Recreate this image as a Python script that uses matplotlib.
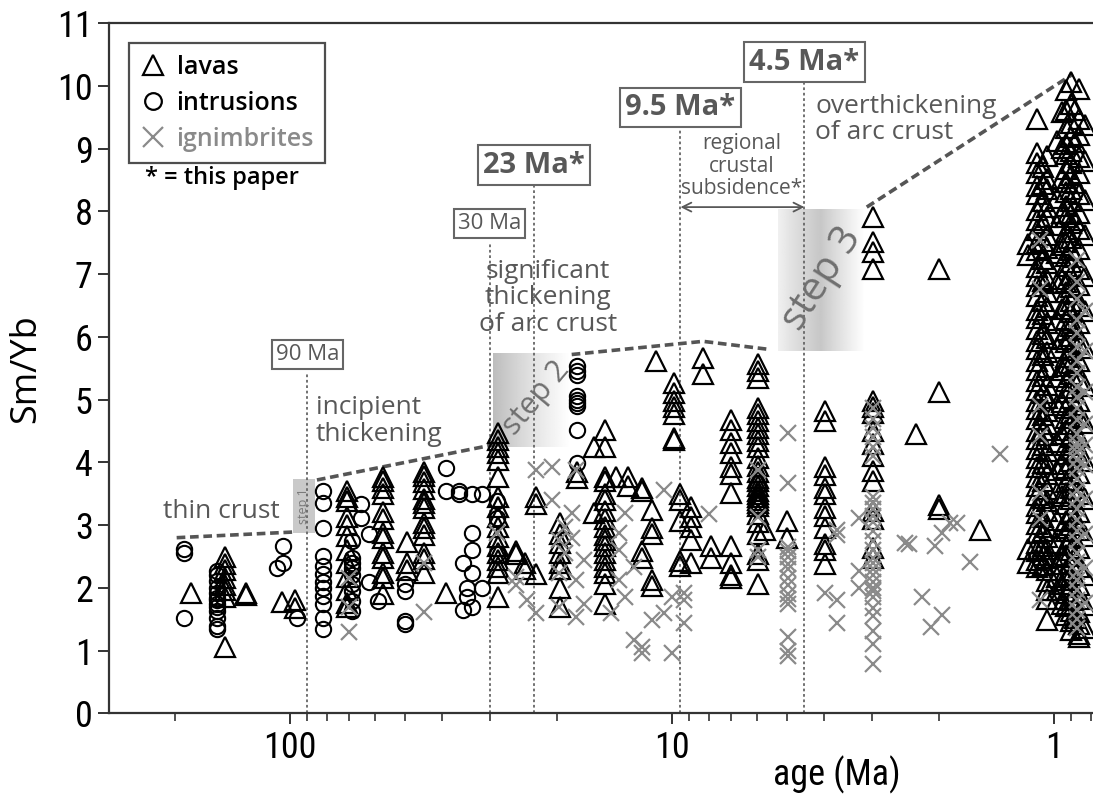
import numpy as np
import matplotlib
matplotlib.use("Agg")
import matplotlib.pyplot as plt
from matplotlib.lines import Line2D
from matplotlib.patches import Rectangle
from matplotlib.ticker import NullFormatter, LogLocator

# ---- data: (age in Ma, [Sm/Yb values]) ----
lavas = [
    (182, [1.92]),
    (148, [2.50, 2.38, 2.28, 2.15, 2.05, 1.96, 1.86, 1.05]),
    (130, [1.92, 1.89]),
    (105, [1.77]),
    (97, [1.80, 1.68]),
    (71, [3.55, 3.45, 3.38, 3.13, 3.00, 2.82, 2.60, 2.40, 2.18, 1.96, 1.76, 1.70]),
    (57, [3.77, 3.70, 3.60, 3.50, 3.21, 3.10, 2.88, 2.80, 2.55, 2.47, 2.24, 2.15, 1.91]),
    (49.5, [2.73, 2.40, 2.28]),
    (44.5, [3.85, 3.78, 3.68, 3.58, 3.41, 3.35, 3.28, 3.03, 2.95, 2.85, 2.56, 2.46, 2.24]),
    (39, [1.92]),
    (28.6, [4.47, 4.36, 4.25, 4.15, 4.04, 3.77, 3.45, 3.29, 3.13, 2.97, 2.81, 2.66,
            2.55, 2.44, 2.34, 2.24, 1.86]),
    (25.6, [2.59, 2.54]),
    (24.3, [2.40, 2.30]),
    (22.7, [3.45, 3.34, 2.22]),
    (19.6, [3.03, 2.86, 2.71, 2.55, 2.39, 2.30, 2.00, 1.69]),
    (17.7, [3.84, 3.75]),
    (16.0, [4.25, 3.20]),
    (15.0, [4.52, 4.25, 3.77, 3.70, 3.50, 3.40, 3.23, 3.10, 2.97, 2.85, 2.76, 2.66,
            2.55, 2.44, 2.34, 2.24, 2.06, 1.74]),
    (14.0, [3.77]),
    (13.0, [3.77, 3.62]),
    (12.0, [3.60, 3.55, 2.59, 2.48]),
    (11.3, [3.24, 2.95, 2.86, 2.12, 2.03]),
    (11.0, [5.62]),
    (9.9, [5.26, 5.10, 4.98, 4.88, 4.77, 4.39, 4.35]),
    (9.5, [3.50, 3.40, 3.07, 2.43, 2.35]),
    (8.9, [3.29, 3.13, 2.97, 2.76, 2.39]),
    (8.3, [5.67, 5.41]),
    (7.9, [2.67, 2.48]),
    (7.0, [4.68, 4.52, 4.31, 4.15, 3.93, 3.82, 3.51, 2.67, 2.39, 2.20, 2.15]),
    (5.95, [5.57, 5.45, 5.35, 4.87, 4.77, 4.66, 4.55, 4.45, 4.34, 4.24, 4.07, 3.95,
            3.85, 3.75, 3.70, 3.62, 3.55, 3.50, 3.45, 3.40, 3.35, 3.30, 3.18, 3.05,
            2.86, 2.54, 2.44, 2.06]),
    (5.7, [2.92]),
    (5.0, [3.07, 2.80]),
    (3.98, [4.82, 4.66, 3.93, 3.80, 3.60, 3.50, 3.27, 3.15, 2.96, 2.70, 2.60, 2.38]),
    (2.98, [7.91, 7.51, 7.35, 7.08, 4.98, 4.88, 4.78, 4.50, 4.29, 4.10, 3.86, 3.70,
            3.23, 3.10, 2.64, 2.48]),
    (2.29, [4.46]),
    (2.0, [7.08, 5.13, 3.32, 3.26]),
    (1.56, [2.92]),
    (1.17, [7.48, 7.30, 2.62, 2.40]),
    (1.11, [9.47, 8.93, 8.78, 8.62, 8.41, 8.28, 8.02, 7.86, 7.71, 7.49, 7.38, 7.12,
            6.97, 6.81, 6.66, 6.43, 6.30, 6.12, 5.93, 5.81, 5.62, 5.47, 5.30, 5.16,
            4.98, 4.85, 4.69, 4.50, 4.38, 4.21, 4.07, 3.92, 3.76, 3.63, 3.48, 3.31,
            3.19, 3.02, 2.88, 2.71, 2.58, 2.44, 2.33]),
    (1.07, [8.71, 8.44, 8.16, 7.81, 7.53, 7.24, 6.89, 6.58, 6.36, 6.04, 5.71, 5.38,
            5.11, 4.76, 4.52, 4.27, 3.99, 3.71, 3.44, 3.13, 2.91, 2.66, 2.52, 2.37]),
    (1.04, [8.88, 8.52, 8.36, 8.07, 7.91, 7.63, 7.42, 7.18, 6.92, 6.71, 6.48, 6.23,
            5.98, 5.76, 5.52, 5.24, 5.03, 4.82, 4.61, 4.43, 4.18, 3.97, 3.82, 3.57,
            3.38, 3.22, 2.97, 2.81, 2.62, 2.47, 2.28, 2.11, 1.97, 1.82, 1.49]),
    (0.98, [9.12, 8.22, 7.78, 7.34, 6.86, 6.27, 5.83, 5.36, 4.91, 4.33, 3.88, 3.51,
            3.08, 2.72, 2.38, 2.17, 1.96, 1.83]),
    (0.95, [9.58, 9.02, 8.53, 7.97, 7.46, 6.93, 6.44, 5.96, 5.48, 4.97, 4.46, 3.97,
            3.46, 2.96, 2.49, 2.06, 1.74]),
    (0.93, [9.93, 9.61, 9.33, 9.08, 8.91, 8.68, 8.47, 8.31, 8.09, 7.92, 7.68, 7.51,
            7.29, 7.13, 6.88, 6.72, 6.51, 6.28, 6.11, 5.92, 5.68, 5.53, 5.29, 5.12,
            4.87, 4.71, 4.52, 4.28, 4.13, 3.91, 3.68, 3.52, 3.33, 3.07, 2.91, 2.68,
            2.52, 2.29, 2.13, 1.92, 1.71, 1.56]),
    (0.90, [10.06, 9.72, 9.41, 9.18, 8.97, 8.77, 8.58, 8.36, 8.17, 7.96, 7.81, 7.57,
            7.38, 7.19, 6.98, 6.79, 6.57, 6.39, 6.18, 6.01, 5.79, 5.58, 5.41, 5.18,
            5.02, 4.79, 4.62, 4.41, 4.19, 4.03, 3.81, 3.59, 3.42, 3.18, 3.01, 2.79,
            2.61, 2.39, 2.21, 2.02, 1.81, 1.63, 1.47, 1.33]),
    (0.88, [9.62, 9.11, 8.46, 7.86, 7.27, 6.68, 6.12, 5.53, 4.92, 4.34, 3.72, 3.12,
            2.51, 1.92, 1.52]),
    (0.86, [9.95, 9.48, 9.22, 8.87, 8.61, 8.28, 7.98, 7.72, 7.41, 7.09, 6.83, 6.49,
            6.22, 5.89, 5.62, 5.31, 4.98, 4.72, 4.41, 4.11, 3.83, 3.49, 3.21, 2.92,
            2.63, 2.33, 2.04, 1.82, 1.61, 1.42, 1.27, 1.21]),
    (0.83, [9.38, 8.81, 8.19, 7.62, 6.97, 6.41, 5.83, 5.22, 4.63, 4.02, 3.41, 2.83,
            2.21, 1.72, 1.36]),
]

intrusions = [
    (190, [2.62, 2.55, 1.52]),
    (155, [2.27, 2.20, 2.11, 2.00, 1.92, 1.84, 1.80, 1.74, 1.70, 1.63, 1.52, 1.39, 1.34]),
    (108, [2.32]),
    (104, [2.67, 2.40]),
    (96, [1.52]),
    (82, [3.55, 3.36, 2.96, 2.51, 2.35, 2.22, 2.10, 2.00, 1.87, 1.74, 1.52, 1.34]),
    (69, [2.75, 2.48, 2.40, 2.32, 2.20, 2.06, 1.95, 1.79, 1.63]),
    (65, [3.34, 3.12]),
    (62, [2.86, 2.10]),
    (59, [1.79]),
    (50, [2.06, 1.95, 1.47, 1.42]),
    (39, [3.91, 3.55]),
    (36, [3.55, 3.50]),
    (33.3, [3.50, 2.87, 2.60, 2.24, 1.70]),
    (35.2, [2.40, 1.65]),
    (34.3, [2.00, 1.86]),
    (31.4, [3.50, 2.00]),
    (28.7, [3.39, 3.11, 2.54]),
    (17.7, [5.53, 5.45, 5.40, 5.06, 5.00, 4.95, 4.90, 4.52, 3.99]),
]

ignimbrites = [
    (70, [2.16, 1.69, 1.30]),
    (44.5, [2.40, 1.61]),
    (28.7, [2.87]),
    (25.6, [2.17, 2.05]),
    (24.0, [1.80]),
    (22.7, [3.88, 1.60]),
    (20.6, [3.93, 3.40]),
    (19.8, [2.76, 2.24, 1.69]),
    (19.0, [2.97, 2.55]),
    (18.3, [3.19, 2.80]),
    (17.8, [3.88, 2.12, 1.53]),
    (17.0, [2.44, 1.75]),
    (14.4, [1.60]),
    (13.8, [2.87, 2.60, 2.12]),
    (13.3, [3.19, 1.86]),
    (12.6, [2.33, 1.17]),
    (12.0, [0.96, 1.05]),
    (11.3, [1.49]),
    (10.5, [3.56, 1.60]),
    (10.0, [1.86, 0.96]),
    (9.3, [1.81, 1.44, 1.92]),
    (8.0, [3.17]),
    (5.95, [3.88, 3.13, 2.60, 2.50]),
    (4.97, [4.47, 3.67, 2.65, 2.59, 2.50, 2.38, 2.30, 2.16, 2.05, 1.90, 1.82, 1.74,
            1.22, 1.00, 0.92]),
    (3.98, [1.92]),
    (3.7, [2.93, 2.85, 1.80, 1.44]),
    (3.24, [3.12, 2.27, 2.00]),
    (2.98, [4.87, 4.70, 4.55, 4.40, 4.25, 4.10, 3.45, 3.35, 3.25, 3.15, 3.05, 2.90,
            2.75, 2.60, 2.48, 2.40, 2.30, 2.20, 2.10, 2.00, 1.95, 1.85, 1.68, 1.55,
            1.31, 1.10, 0.78]),
    (2.46, [2.72]),
    (2.40, [2.70]),
    (2.21, [1.86]),
    (2.10, [1.38]),
    (2.05, [2.66]),
    (1.96, [2.88, 1.57]),
    (1.87, [3.03]),
    (1.79, [3.03]),
    (1.66, [2.41]),
    (1.38, [4.13]),
    (1.09, [7.55, 6.76, 4.90, 4.42, 3.52, 3.09, 1.80]),
    (0.87, [7.22, 6.88, 6.61, 6.27, 6.06, 5.84, 5.61, 5.43, 5.21, 5.05, 4.86, 4.68,
            4.46, 4.31, 4.24, 4.16, 4.04, 3.91, 3.74, 3.56, 3.41, 3.26, 3.08, 2.91,
            2.74, 2.56, 2.41, 2.26, 2.12, 1.96, 1.81, 1.65, 1.51, 1.36]),
    (0.83, [6.41, 5.77, 5.12, 4.61, 4.28, 3.96, 3.42, 2.86, 2.31, 1.76]),
]

# age markers (Ma), label, Sm/Yb of box centre, bold
age_marks = [(90, "90 Ma", 5.72, False), (30, "30 Ma", 7.81, False),
             (23, "23 Ma*", 8.74, True), (9.5, "9.5 Ma*", 9.66, True),
             (4.5, "4.5 Ma*", 10.38, True)]
mark_line_top = [5.43, 7.52, 8.40, 9.33, 10.06]

# trend line (dashed) nodes
trend_1 = ([198, 98.2], [2.80, 2.89])
trend_2 = ([85, 29.4], [3.72, 4.28])
trend_3 = ([18.3, 8.29, 5.54], [5.72, 5.93, 5.80])
trend_4 = ([3.09, 0.892], [8.07, 10.19])


def flat(groups):
    ages = [a for a, v in groups for _ in v]
    vals = [x for _, v in groups for x in v]
    return np.array(ages), np.array(vals)


TXT = "Open Sans"
NARROW = ["Roboto Condensed", "Liberation Sans Narrow", "Roboto", "DejaVu Sans"]
GREY = "#585858"
IGN = "#8a8a8a"

fig = plt.figure(figsize=(10.93, 7.98), dpi=100)
ax = fig.add_axes([0.1001, 0.1061, 0.8999, 0.8647])
ax.set_xscale("log")

# gradient boxes (steps)
g2 = np.linspace(0.74, 1.0, 200)[None, :]
ax.imshow(g2, cmap="gray", vmin=0, vmax=1, extent=(29.4, 18.5, 4.24, 5.75),
          aspect="auto", interpolation="bilinear", zorder=0.5)
g3 = np.concatenate([np.linspace(0.94, 0.78, 110), np.linspace(0.78, 1.0, 90)])[None, :]
ax.imshow(g3, cmap="gray", vmin=0, vmax=1, extent=(5.28, 3.13, 5.77, 8.04),
          aspect="auto", interpolation="bilinear", zorder=0.5)
ax.add_patch(Rectangle((98.2, 2.88), 86 - 98.2, 3.74 - 2.88, fc="#c9c9c9",
                       ec="none", zorder=0.5))

# vertical dotted age lines and boxes
for (age, lab, yb, bold), top in zip(age_marks, mark_line_top):
    ax.plot([age, age], [0, top], ls=(0, (1.5, 1.5)), color="#666666", lw=1.3, zorder=0.8)
    ax.text(age, yb, lab, ha="center", va="center", color=GREY, family=TXT,
            fontsize=21 if bold else 16, fontweight="bold" if bold else "normal",
            bbox=dict(boxstyle="square,pad=0.18", fc="white", ec="#666666", lw=1.5),
            zorder=3)

# dashed trend lines
for xs, ys in (trend_1, trend_2, trend_3, trend_4):
    ax.plot(xs, ys, ls=(0, (2.4, 1.3)), color="#555555", lw=2.6, zorder=1)

# data
la, lv = flat(lavas)
ia, iv = flat(intrusions)
ga, gv = flat(ignimbrites)
ax.plot(la, lv, ls="none", marker="^", ms=14, mfc="none", mec="black", mew=1.6, zorder=2)
ax.plot(ia, iv, ls="none", marker="o", ms=11, mfc="none", mec="black", mew=1.5, zorder=2)
ax.plot(ga, gv, ls="none", marker="x", ms=12, mec=IGN, mew=1.6, zorder=2.1)

# annotations
ax.text(215, 3.21, "thin crust", ha="left", va="center", fontsize=19, color=GREY, family=TXT)
ax.text(85.5, 5.08, "incipient\nthickening", ha="left", va="top", fontsize=19,
        color=GREY, family=TXT, linespacing=1.1)
ax.text(21.1, 7.25, "significant\nthickening\nof arc crust", ha="center", va="top",
        fontsize=19, color=GREY, family=TXT, linespacing=1.1)
ax.text(6.56, 9.25, "regional\ncrustal\nsubsidence*", ha="center", va="top",
        fontsize=15, color=GREY, family=TXT, linespacing=1.1)
ax.text(4.22, 9.88, "overthickening\nof arc crust", ha="left", va="top", fontsize=19,
        color=GREY, family=TXT, linespacing=1.1)
ax.annotate("", xy=(4.5, 8.07), xytext=(9.5, 8.07),
            arrowprops=dict(arrowstyle="<->", color=GREY, lw=1.3,
                            shrinkA=0, shrinkB=0, mutation_scale=16))
ax.text(91.9, 3.31, "step 1", rotation=90, ha="center", va="center", fontsize=9,
        color="#7a7a7a", family=TXT)
ax.text(22.6, 5.03, "step 2", rotation=50, ha="center", va="center", fontsize=22,
        color="#707070", family=TXT, rotation_mode="anchor")
ax.text(4.05, 6.92, "step 3", rotation=57, ha="center", va="center", fontsize=29,
        color="#707070", family=TXT, rotation_mode="anchor")

# legend
handles = [
    Line2D([], [], ls="none", marker="^", ms=15, mfc="none", mec="black", mew=1.6, label="lavas"),
    Line2D([], [], ls="none", marker="o", ms=12, mfc="none", mec="black", mew=1.6, label="intrusions"),
    Line2D([], [], ls="none", marker="x", ms=14, mec=IGN, mew=1.6, label="ignimbrites"),
]
leg = ax.legend(handles=handles, loc="upper left", bbox_to_anchor=(0.020, 0.971),
                borderaxespad=0, frameon=True, fancybox=False, edgecolor="#222222",
                handlelength=1.0, handletextpad=0.45, labelspacing=0.45, borderpad=0.45,
                prop={"family": TXT, "size": 18, "weight": "semibold"})
leg.get_frame().set_linewidth(1.6)
leg.get_texts()[2].set_color(IGN)
leg.set_zorder(5)
ax.text(0.036, 0.776, "* = this paper", transform=ax.transAxes, ha="left", va="center",
        fontsize=17, family=TXT, fontweight="semibold", color="black")

# axes styling
ax.set_xlim(297, 0.79)
ax.set_ylim(0, 11)
ax.set_yticks(range(0, 12))
ax.set_xticks([100, 10, 1])
ax.set_xticklabels(["100", "10", "1"])
ax.xaxis.set_minor_locator(LogLocator(base=10, subs=np.arange(2, 10)))
ax.xaxis.set_minor_formatter(NullFormatter())
for lab in ax.get_xticklabels() + ax.get_yticklabels():
    lab.set_family(NARROW)
    lab.set_fontsize(26)
ax.tick_params(which="major", direction="out", length=8, width=1.4, color="#333333", pad=4)
ax.tick_params(axis="x", which="minor", direction="out", length=6, width=1.2, color="#333333")
ax.spines["right"].set_visible(False)
for s in ("left", "bottom", "top"):
    ax.spines[s].set_linewidth(1.6)
    ax.spines[s].set_color("#333333")

ax.set_ylabel("Sm/Yb", family=TXT, fontsize=26)
ax.yaxis.set_label_coords(-0.066, 0.50)
ax.set_xlabel("age (Ma)", family=NARROW, fontsize=26)
ax.xaxis.set_label_coords(0.74, -0.062)

fig.savefig("out.png", dpi=100)
